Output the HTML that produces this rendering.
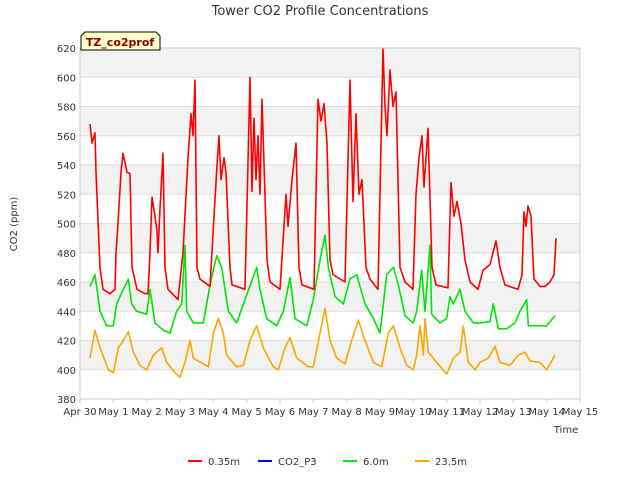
<!DOCTYPE html>
<html><head><meta charset="utf-8"><style>
body{margin:0;background:#fff;font-family:"Liberation Sans","DejaVu Sans",sans-serif}
text{font-family:"DejaVu Sans","Liberation Sans",sans-serif}
</style></head><body>
<svg id="c" width="640" height="480">
<text x="320" y="15" text-anchor="middle" font-size="13" fill="#333">Tower CO2 Profile Concentrations</text>
<g id="bands"></g><g id="grid"></g><g id="series"></g><g id="axes"></g>
<text transform="translate(17,224) rotate(-90)" text-anchor="middle" font-size="10" fill="#333">CO2 (ppm)</text>
<text x="566" y="433" text-anchor="middle" font-size="10" fill="#333">Time</text>
<g><path d="M81,50 L81,36 L85,32 L156,32 L160,36 L160,50 Z" fill="#ffffcc" stroke="#000"/><text x="120" y="46" text-anchor="middle" font-size="11" font-weight="bold" fill="#8b0000">TZ_co2prof</text></g>
<g>
<g><line x1="188" y1="461" x2="202" y2="461" stroke="#f00" stroke-width="2"/><text x="208" y="465" font-size="10" fill="#333">0.35m</text></g>
<g><line x1="258" y1="461" x2="272" y2="461" stroke="#00f" stroke-width="2"/><text x="278" y="465" font-size="10" fill="#333">CO2_P3</text></g>
<g><line x1="343" y1="461" x2="357" y2="461" stroke="#0e0" stroke-width="2"/><text x="363" y="465" font-size="10" fill="#333">6.0m</text></g>
<g><line x1="415" y1="461" x2="429" y2="461" stroke="#ffa500" stroke-width="2"/><text x="435" y="465" font-size="10" fill="#333">23.5m</text></g>
</g>
</svg>
<script>
const yTicks=[380,400,420,440,460,480,500,520,540,560,580,600,620];
const xTickLabels=["Apr 30","May 1","May 2","May 3","May 4","May 5","May 6","May 7","May 8","May 9","May 10","May 11","May 12","May 13","May 14","May 15"];
const redT=[0.30,0.36,0.45,0.48,0.60,0.69,0.90,1.05,1.08,1.14,1.23,1.29,1.41,1.50,1.56,1.71,1.95,2.04,2.10,2.16,2.25,2.31,2.34,2.40,2.49,2.55,2.64,2.94,3.09,3.24,3.33,3.39,3.45,3.51,3.60,3.90,4.11,4.17,4.23,4.32,4.38,4.50,4.56,4.95,5.10,5.16,5.22,5.28,5.34,5.40,5.46,5.61,5.70,6.00,6.18,6.24,6.36,6.48,6.57,6.66,7.02,7.14,7.23,7.32,7.41,7.50,7.59,7.95,8.10,8.19,8.28,8.37,8.46,8.58,8.70,8.94,9.09,9.15,9.21,9.30,9.39,9.48,9.60,9.75,9.99,10.08,10.17,10.26,10.32,10.44,10.56,10.68,11.04,11.13,11.22,11.31,11.43,11.55,11.70,11.94,12.09,12.30,12.48,12.60,12.75,13.14,13.26,13.32,13.38,13.44,13.53,13.62,13.80,13.95,14.10,14.22,14.28];
const redV=[568,555,562,535,470,455,452,455,480,500,535,548,535,534,470,455,452,452,480,518,505,495,480,510,548,470,455,448,480,545,575,560,598,470,462,457,540,560,530,545,535,470,458,455,600,522,572,530,560,520,585,475,460,455,520,498,530,555,470,458,455,585,570,582,555,475,465,460,598,515,575,520,530,470,462,455,620,580,560,605,580,590,470,460,455,520,545,560,525,565,470,458,456,528,505,515,500,475,460,455,468,472,488,470,458,455,465,508,498,512,505,462,457,457,460,465,490];
const greenT=[0.3,0.45,0.6,0.8,1.0,1.1,1.3,1.45,1.55,1.7,2.0,2.1,2.25,2.5,2.7,2.9,3.05,3.15,3.2,3.4,3.7,3.9,4.1,4.25,4.45,4.7,4.95,5.3,5.4,5.6,5.9,6.1,6.3,6.45,6.8,7.0,7.2,7.35,7.45,7.65,7.9,8.1,8.3,8.55,8.8,9.0,9.2,9.4,9.55,9.75,10.0,10.1,10.25,10.35,10.5,10.55,10.8,11.0,11.1,11.2,11.4,11.55,11.8,12.0,12.3,12.4,12.55,12.8,13.05,13.2,13.4,13.45,13.8,14.0,14.25];
const greenV=[457,465,440,430,430,445,455,462,445,440,438,455,432,427,425,440,445,485,440,432,432,458,478,470,440,432,448,470,455,435,430,440,463,435,430,448,475,492,470,450,445,462,465,445,435,425,465,470,458,437,432,440,468,440,485,438,432,435,450,445,455,440,432,432,433,445,428,428,432,440,448,430,430,430,437];
const orangeT=[0.3,0.45,0.6,0.85,1.0,1.15,1.3,1.45,1.6,1.8,2.0,2.2,2.45,2.6,2.85,3.0,3.15,3.3,3.4,3.7,3.85,4.0,4.15,4.3,4.4,4.7,4.9,5.1,5.3,5.5,5.8,5.95,6.15,6.3,6.5,6.85,7.0,7.2,7.35,7.5,7.7,7.95,8.15,8.35,8.55,8.8,9.05,9.25,9.4,9.6,9.8,10.0,10.1,10.2,10.3,10.35,10.45,10.7,11.0,11.2,11.4,11.5,11.65,11.85,12.0,12.25,12.45,12.6,12.9,13.15,13.35,13.5,13.8,14.0,14.25];
const orangeV=[408,427,415,400,398,415,420,426,412,403,400,410,415,405,398,395,405,420,408,404,402,425,435,425,410,402,403,420,430,415,402,400,415,422,408,402,402,425,442,420,408,404,420,434,420,405,402,425,430,415,403,400,410,430,410,435,412,405,397,408,412,430,405,400,405,408,416,405,403,410,412,406,405,400,410];
const L=80,R=580,T=48,B=399,ymin=380,ymax=620,xmax=15;
const xs=d=>L+(R-L)*d/xmax, ys=v=>B-(B-T)*(v-ymin)/(ymax-ymin);
const NS="http://www.w3.org/2000/svg";
function mk(tag,parent,attrs){const e=document.createElementNS(NS,tag);for(const k in attrs)e.setAttribute(k,attrs[k]);document.getElementById(parent).appendChild(e);return e;}
for(let i=0;i<yTicks.length-1;i++){
 if(i%2===1){const r=mk('rect','bands',{x:L,y:ys(yTicks[i+1]),width:R-L,height:ys(yTicks[i])-ys(yTicks[i+1]),fill:'#f2f2f2'});
 
 }
}
yTicks.forEach(v=>{const g=mk('line','grid',{x1:L,x2:R,y1:ys(v),y2:ys(v),stroke:'#ddd'});
 
 
 const t=mk('text','axes',{x:L-4,y:ys(v)+4,'text-anchor':'end','font-size':10,fill:'#333'});t.textContent=v;
 
 });
xTickLabels.forEach((s,i)=>{const t=mk('text','axes',{x:xs(i),y:415,'text-anchor':'middle','font-size':10,fill:'#333'});t.textContent=s;
 
 
 const k=mk('line','axes',{x1:xs(i),x2:xs(i),y1:B,y2:B+4,stroke:'#ccc'});
 
 });
const fr=mk('rect','axes',{x:L,y:T,width:R-L,height:B-T,fill:'none',stroke:'#ccc'});


function line(t,v,col,name){const p=mk('polyline','series',{points:t.map((d,i)=>xs(d)+','+ys(v[i])).join(' '),fill:'none',stroke:col,'stroke-width':1.6,'stroke-linejoin':'round'});
 
 }
line(orangeT,orangeV,'#ffa500','series-23.5m');
line(greenT,greenV,'#00e600','series-6.0m');
line(redT,redV,'#ff0000','series-0.35m');
</script>
</body></html>
